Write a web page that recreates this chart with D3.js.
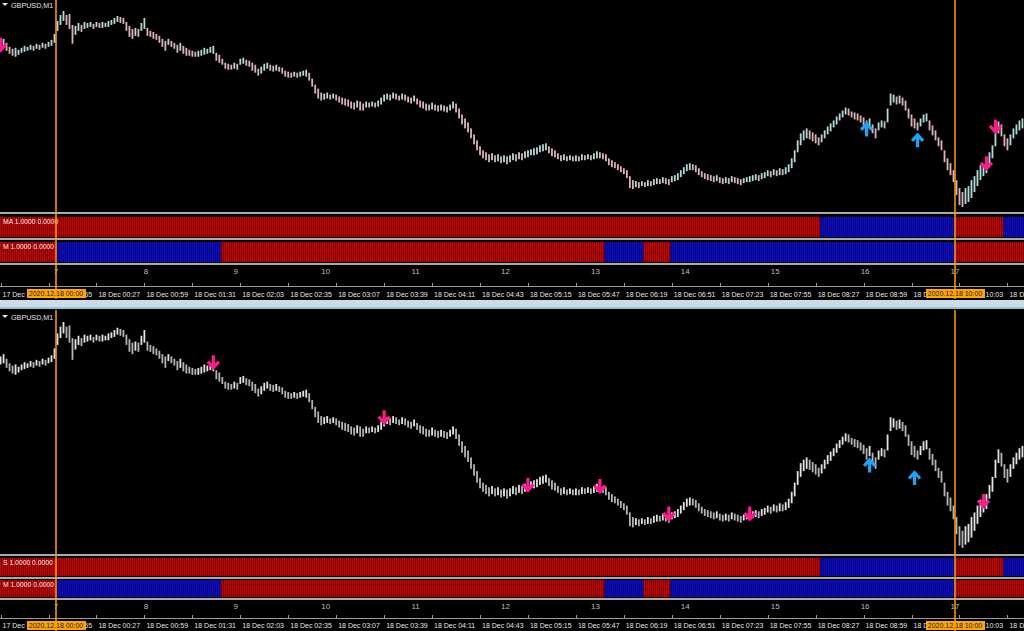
<!DOCTYPE html>
<html><head><meta charset="utf-8">
<script src="https://cdn.jsdelivr.net/npm/d3@7"></script>
<style>html,body{margin:0;padding:0;background:#000;overflow:hidden}text{font-family:"Liberation Sans",Arial,sans-serif}</style>
</head><body><svg id="c" width="1024" height="631"></svg>
<script>
// ---------------- DATA ----------------
const symbolTitle = "GBPUSD,M1";
const firstBarTime = "2020-12-17 23:23";
const barMinutes = 2;
const highs = [
1.3620,1.3622,1.3618,1.3614,1.3612,1.3613,1.3611,1.3613,1.3615,1.3614,
1.3616,1.3615,1.3617,1.3616,1.3618,1.3617,1.3619,1.3621,1.3627,1.3640,
1.3646,1.3650,1.3646,1.3647,1.3636,1.3635,1.3638,1.3636,1.3639,1.3638,
1.3639,1.3637,1.3639,1.3638,1.3639,1.3638,1.3640,1.3641,1.3643,1.3645,
1.3644,1.3643,1.3639,1.3635,1.3632,1.3633,1.3632,1.3638,1.3643,1.3633,
1.3630,1.3629,1.3627,1.3625,1.3622,1.3620,1.3622,1.3620,1.3618,1.3616,
1.3618,1.3615,1.3613,1.3611,1.3610,1.3609,1.3610,1.3611,1.3613,1.3612,
1.3614,1.3615,1.3608,1.3606,1.3602,1.3598,1.3597,1.3596,1.3598,1.3597,
1.3602,1.3603,1.3601,1.3600,1.3598,1.3596,1.3592,1.3594,1.3597,1.3598,
1.3596,1.3595,1.3596,1.3594,1.3593,1.3590,1.3589,1.3588,1.3589,1.3588,
1.3589,1.3590,1.3591,1.3588,1.3582,1.3576,1.3572,1.3568,1.3567,1.3568,
1.3566,1.3567,1.3566,1.3564,1.3563,1.3562,1.3561,1.3559,1.3558,1.3560,
1.3559,1.3557,1.3559,1.3558,1.3559,1.3558,1.3560,1.3563,1.3566,1.3567,
1.3566,1.3568,1.3567,1.3565,1.3567,1.3566,1.3564,1.3563,1.3565,1.3562,
1.3560,1.3559,1.3557,1.3556,1.3558,1.3556,1.3555,1.3556,1.3555,1.3554,
1.3556,1.3559,1.3557,1.3552,1.3546,1.3542,1.3538,1.3532,1.3526,1.3520,
1.3514,1.3510,1.3508,1.3506,1.3507,1.3505,1.3506,1.3504,1.3505,1.3504,
1.3505,1.3507,1.3506,1.3508,1.3507,1.3509,1.3510,1.3511,1.3512,1.3513,
1.3515,1.3516,1.3517,1.3514,1.3512,1.3510,1.3507,1.3505,1.3506,1.3504,
1.3505,1.3504,1.3505,1.3504,1.3506,1.3505,1.3506,1.3505,1.3507,1.3509,
1.3508,1.3507,1.3506,1.3502,1.3500,1.3498,1.3496,1.3494,1.3492,1.3490,
1.3484,1.3480,1.3479,1.3478,1.3479,1.3478,1.3480,1.3479,1.3481,1.3482,
1.3481,1.3483,1.3482,1.3481,1.3484,1.3485,1.3487,1.3490,1.3493,1.3496,
1.3497,1.3496,1.3495,1.3492,1.3489,1.3487,1.3486,1.3485,1.3484,1.3485,
1.3483,1.3482,1.3483,1.3482,1.3484,1.3483,1.3482,1.3481,1.3482,1.3483,
1.3484,1.3485,1.3486,1.3485,1.3487,1.3488,1.3490,1.3489,1.3491,1.3490,
1.3492,1.3491,1.3493,1.3496,1.3502,1.3510,1.3520,1.3527,1.3530,1.3532,
1.3530,1.3528,1.3526,1.3523,1.3526,1.3530,1.3534,1.3537,1.3540,1.3544,
1.3547,1.3550,1.3553,1.3552,1.3549,1.3548,1.3547,1.3545,1.3543,1.3540,
1.3542,1.3536,1.3532,1.3538,1.3540,1.3539,1.3552,1.3567,1.3566,1.3564,
1.3565,1.3563,1.3560,1.3552,1.3546,1.3542,1.3538,1.3542,1.3546,1.3547,
1.3540,1.3535,1.3530,1.3523,1.3520,1.3510,1.3502,1.3497,1.3490,1.3480,
1.3472,1.3468,1.3472,1.3474,1.3480,1.3484,1.3490,1.3495,1.3496,1.3500,
1.3508,1.3515,1.3530,1.3539,1.3536,1.3526,1.3522,1.3526,1.3532,1.3536,
1.3540,1.3542];
const lows = [
1.3613,1.3614,1.3610,1.3607,1.3605,1.3604,1.3606,1.3608,1.3609,1.3610,
1.3611,1.3610,1.3612,1.3611,1.3613,1.3612,1.3614,1.3615,1.3618,1.3630,
1.3636,1.3640,1.3636,1.3632,1.3617,1.3626,1.3630,1.3629,1.3632,1.3633,
1.3634,1.3632,1.3634,1.3633,1.3633,1.3634,1.3634,1.3636,1.3637,1.3639,
1.3638,1.3637,1.3630,1.3624,1.3622,1.3625,1.3624,1.3630,1.3632,1.3625,
1.3624,1.3622,1.3621,1.3618,1.3614,1.3610,1.3616,1.3614,1.3612,1.3608,
1.3610,1.3607,1.3605,1.3605,1.3604,1.3604,1.3604,1.3605,1.3606,1.3607,
1.3608,1.3607,1.3600,1.3598,1.3596,1.3592,1.3591,1.3591,1.3592,1.3591,
1.3596,1.3597,1.3595,1.3594,1.3590,1.3588,1.3585,1.3587,1.3590,1.3592,
1.3590,1.3589,1.3590,1.3589,1.3587,1.3584,1.3583,1.3583,1.3584,1.3583,
1.3584,1.3585,1.3584,1.3580,1.3574,1.3567,1.3562,1.3560,1.3561,1.3562,
1.3561,1.3562,1.3560,1.3558,1.3556,1.3555,1.3554,1.3552,1.3551,1.3553,
1.3550,1.3550,1.3553,1.3553,1.3554,1.3553,1.3554,1.3556,1.3559,1.3561,
1.3560,1.3562,1.3561,1.3560,1.3561,1.3560,1.3558,1.3557,1.3559,1.3556,
1.3553,1.3552,1.3550,1.3550,1.3551,1.3550,1.3549,1.3550,1.3549,1.3548,
1.3550,1.3552,1.3548,1.3542,1.3536,1.3532,1.3528,1.3522,1.3516,1.3510,
1.3505,1.3502,1.3500,1.3498,1.3500,1.3498,1.3499,1.3497,1.3498,1.3496,
1.3498,1.3500,1.3499,1.3501,1.3500,1.3502,1.3503,1.3505,1.3505,1.3506,
1.3508,1.3509,1.3510,1.3507,1.3504,1.3503,1.3501,1.3499,1.3500,1.3499,
1.3500,1.3499,1.3499,1.3499,1.3500,1.3500,1.3501,1.3500,1.3501,1.3502,
1.3502,1.3501,1.3499,1.3495,1.3493,1.3492,1.3490,1.3488,1.3486,1.3482,
1.3472,1.3471,1.3473,1.3472,1.3474,1.3473,1.3474,1.3474,1.3475,1.3476,
1.3476,1.3477,1.3476,1.3475,1.3478,1.3479,1.3480,1.3483,1.3486,1.3489,
1.3490,1.3490,1.3488,1.3485,1.3483,1.3481,1.3480,1.3479,1.3478,1.3479,
1.3477,1.3476,1.3477,1.3476,1.3478,1.3477,1.3476,1.3475,1.3477,1.3478,
1.3478,1.3479,1.3480,1.3479,1.3481,1.3482,1.3484,1.3483,1.3485,1.3484,
1.3485,1.3485,1.3486,1.3488,1.3492,1.3498,1.3508,1.3515,1.3520,1.3522,
1.3521,1.3519,1.3517,1.3515,1.3518,1.3522,1.3526,1.3529,1.3533,1.3536,
1.3540,1.3543,1.3546,1.3545,1.3543,1.3541,1.3540,1.3538,1.3535,1.3530,
1.3533,1.3527,1.3522,1.3530,1.3533,1.3532,1.3538,1.3555,1.3558,1.3556,
1.3557,1.3555,1.3550,1.3542,1.3534,1.3532,1.3530,1.3534,1.3538,1.3539,
1.3530,1.3525,1.3520,1.3514,1.3510,1.3498,1.3490,1.3485,1.3478,1.3465,
1.3455,1.3453,1.3456,1.3458,1.3462,1.3468,1.3474,1.3480,1.3484,1.3487,
1.3496,1.3502,1.3514,1.3527,1.3524,1.3514,1.3510,1.3515,1.3522,1.3526,
1.3530,1.3532];

// signal arrows: [bar index, price]
const topSells = [[0,1.3616],[329,1.3497],[332,1.3534]];
const topBuys = [[289,1.3531],[306,1.3520]];
const bottomSells = [[71,1.3615],[128,1.3567],[176,1.3508],[200,1.3507],[223,1.3483],[250,1.3483],[328,1.3494]];
const bottomBuys = [[290,1.3525],[305,1.3514]];

// indicator states: [state, firstBar, lastBar]
const maStates = [["sell",0,273],["buy",274,318],["sell",319,334],["buy",335,341]];
const sStates = [["sell",0,273],["buy",274,318],["sell",319,334],["buy",335,341]];
const mStates = [["sell",0,18],["buy",19,73],["sell",74,201],["buy",202,214],["sell",215,223],["buy",224,318],["sell",319,341]];

const separatorTimes = ["2020-12-18 00:00","2020-12-18 10:00"];
const hourLabels = ["7","8","9","10","11","12","13","14","15","16","17"];
const hourTimes = ["2020-12-18 00:00","2020-12-18 01:00","2020-12-18 02:00","2020-12-18 03:00","2020-12-18 04:00","2020-12-18 05:00","2020-12-18 06:00","2020-12-18 07:00","2020-12-18 08:00","2020-12-18 09:00","2020-12-18 10:00"];
const timeTicks = ["2020-12-17 23:23","2020-12-17 23:55","2020-12-18 00:27","2020-12-18 00:59","2020-12-18 01:31","2020-12-18 02:03","2020-12-18 02:35","2020-12-18 03:07","2020-12-18 03:39","2020-12-18 04:11","2020-12-18 04:43","2020-12-18 05:15","2020-12-18 05:47","2020-12-18 06:19","2020-12-18 06:51","2020-12-18 07:23","2020-12-18 07:55","2020-12-18 08:27","2020-12-18 08:59","2020-12-18 09:31","2020-12-18 10:03","2020-12-18 10:35"];

// ---------------- DRAW ----------------
const parse = d3.timeParse("%Y-%m-%d %H:%M");
const t0 = parse(firstBarTime);
const barTime = i => d3.timeMinute.offset(t0, i * barMinutes);
const x = d3.scaleTime().domain([parse(separatorTimes[0]), parse(separatorTimes[1])]).range([56, 955]);
const fmtTick = d3.timeFormat("%d %b %H:%M");
const fmtBox = d3.timeFormat("%Y.%m.%d %H:%M");
const bars = highs.map((h, i) => ({i, h, l: lows[i], m: (h + lows[i]) / 2}));
bars.forEach((b, i) => b.up = i === 0 ? true : b.m >= bars[i - 1].m);
const pMin = d3.min(lows), pMax = d3.max(highs);

const svg = d3.select("#c");
svg.append("rect").attr("width", 1024).attr("height", 631).attr("fill", "#000");
const defs = svg.append("defs");
[["sellStripe", "#d40000", "#6e0000"], ["buyStripe", "#0a0ad4", "#0a0a70"]].forEach(([id, c1, c2]) => {
  const p = defs.append("pattern").attr("id", id).attr("patternUnits", "userSpaceOnUse").attr("width", 2).attr("height", 4);
  p.append("rect").attr("width", 2).attr("height", 4).attr("fill", c2);
  p.append("rect").attr("width", 1).attr("height", 4).attr("fill", c1);
});

// separator band between windows
svg.append("rect").attr("x", 0).attr("y", 300).attr("width", 1024).attr("height", 7).attr("fill", "#cfdce8");
svg.append("rect").attr("x", 0).attr("y", 307).attr("width", 1024).attr("height", 2).attr("fill", "#8cc4da");

function arrowPath(dir) {
  return dir === "down" ? "M0,-7V4.5M-5.5,-0.5L0,5.5L5.5,-0.5" : "M0,7V-4.5M-5.5,0.5L0,-5.5L5.5,0.5";
}

function panel(cfg) {
  const g = svg.append("g");
  const y = d3.scaleLinear().domain([pMin, pMax]).range([cfg.pBottom, cfg.pTop]);
  // title
  g.append("path").attr("d", `M2,${cfg.titleY - 5}h6l-3,3z`).attr("fill", "#e8e8e8");
  g.append("text").attr("x", 11).attr("y", cfg.titleY).attr("font-size", 7.2).attr("fill", "#e0e0e0").text(symbolTitle);
  // bars
  g.append("g").selectAll("rect").data(bars).join("rect")
    .attr("x", d => x(barTime(d.i)) - 0.9).attr("width", 1.8)
    .attr("y", d => y(d.h)).attr("height", d => Math.max(1, y(d.l) - y(d.h)))
    .attr("fill", d => d.up ? cfg.upColor : cfg.downColor);
  // arrows
  const arr = cfg.sells.map(d => ({b: d[0], p: d[1], dir: "down"})).concat(cfg.buys.map(d => ({b: d[0], p: d[1], dir: "up"})));
  g.append("g").selectAll("path").data(arr).join("path")
    .attr("transform", d => `translate(${x(barTime(d.b))},${y(d.p)})`)
    .attr("d", d => arrowPath(d.dir)).attr("fill", "none")
    .attr("stroke", d => d.dir === "down" ? "#ff1a8c" : "#1ea4f2").attr("stroke-width", 3.2)
    .attr("stroke-linejoin", "miter");
  // splitters
  g.selectAll(null).data(cfg.splitters).join("rect")
    .attr("x", 0).attr("width", 1024).attr("y", d => d).attr("height", 2).attr("fill", "#a9a9a9");
  // indicator bands
  cfg.bands.forEach(band => {
    g.append("g").selectAll("rect").data(band.states).join("rect")
      .attr("x", d => Math.max(0, x(barTime(d[1])) - 1.5))
      .attr("width", d => Math.min(1024, x(barTime(d[2])) + 1.5) - Math.max(0, x(barTime(d[1])) - 1.5))
      .attr("y", band.y).attr("height", band.h)
      .attr("fill", d => d[0] === "sell" ? "url(#sellStripe)" : "url(#buyStripe)");
    g.append("text").attr("x", 3).attr("y", band.y + 7).attr("font-size", 6.8).attr("fill", "#f4f4f4").text(band.label);
  });
  // hour numbers
  g.selectAll(null).data(hourLabels).join("text")
    .attr("x", (d, i) => x(parse(hourTimes[i]))).attr("y", cfg.hourY)
    .attr("text-anchor", "middle").attr("font-size", 8).attr("fill", "#bcbcbc").text(d => d);
  // time axis
  g.append("line").attr("x1", 0).attr("x2", 1024).attr("y1", cfg.axisY + 0.5).attr("y2", cfg.axisY + 0.5).attr("stroke", "#9a9a9a");
  g.selectAll(null).data(timeTicks).join("line")
    .attr("x1", d => Math.round(x(parse(d))) + 0.5).attr("x2", d => Math.round(x(parse(d))) + 0.5)
    .attr("y1", cfg.axisY - 3).attr("y2", cfg.axisY).attr("stroke", "#9a9a9a");
  g.selectAll(null).data(timeTicks).join("text")
    .attr("x", d => x(parse(d)) + 2).attr("y", cfg.labelY).attr("font-size", 7).attr("fill", "#e6e6e6")
    .text(d => fmtTick(parse(d)));
  // vertical separator lines
  g.selectAll(null).data(separatorTimes).join("line")
    .attr("x1", d => x(parse(d))).attr("x2", d => x(parse(d)))
    .attr("y1", cfg.winTop).attr("y2", cfg.winBottom).attr("stroke", "#ffa000").attr("stroke-width", 1.5);
  // orange time boxes
  const bx = g.selectAll(null).data(separatorTimes).join("g")
    .attr("transform", d => `translate(${x(parse(d))},${cfg.boxY})`);
  bx.append("rect").attr("x", -29).attr("width", 59).attr("height", 9).attr("fill", "#ffa500");
  bx.append("text").attr("y", 7.3).attr("text-anchor", "middle").attr("font-size", 7).attr("fill", "#1a1a1a").text(d => fmtBox(parse(d)));
}

panel({titleY: 8, pTop: 11, pBottom: 207, upColor: "#b3d9d8", downColor: "#dcb3ba",
  sells: topSells, buys: topBuys, splitters: [212, 238, 263],
  bands: [{label: "MA 1.0000 0.0000", y: 217, h: 20, states: maStates}, {label: "M 1.0000 0.0000", y: 242, h: 20, states: mStates}],
  hourY: 274, axisY: 286, labelY: 297, boxY: 289, winTop: 0, winBottom: 299});
panel({titleY: 320, pTop: 322, pBottom: 548, upColor: "#e2e2e2", downColor: "#b4b4b4",
  sells: bottomSells, buys: bottomBuys, splitters: [554, 577, 598],
  bands: [{label: "S 1.0000 0.0000", y: 558, h: 18, states: sStates}, {label: "M 1.0000 0.0000", y: 580, h: 17, states: mStates}],
  hourY: 609, axisY: 618, labelY: 628, boxY: 621, winTop: 310, winBottom: 631});
</script></body></html>
